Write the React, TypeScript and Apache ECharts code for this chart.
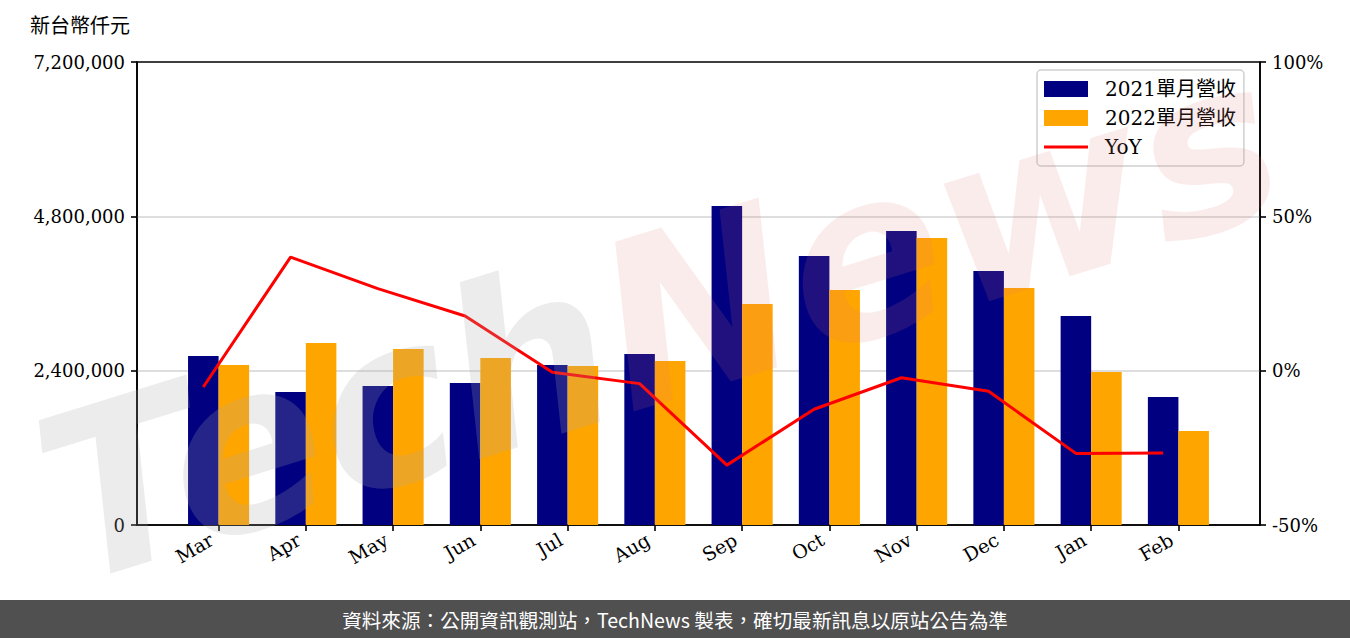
import React, { useEffect, useRef } from "react";
import * as echarts from "echarts";

const months = ["Mar", "Apr", "May", "Jun", "Jul", "Aug", "Sep", "Oct", "Nov", "Dec", "Jan", "Feb"];
const rev2021 = [2628000, 2068000, 2162000, 2208000, 2488000, 2659000, 4961000, 4183000, 4572000, 3950000, 3250000, 1991000];
const rev2022 = [2488000, 2830000, 2737000, 2597000, 2473000, 2550000, 3437000, 3654000, 4463000, 3686000, 2379000, 1462000];
const yoy = [-5.3, 36.8, 26.6, 17.7, -0.5, -4.2, -30.6, -12.5, -2.3, -6.7, -26.8, -26.7];
const leftTicks = [0, 2400000, 4800000, 7200000];
const rightTicks = [-50, 0, 50, 100];

const yTitle = "新台幣仟元";
const footer = "資料來源：公開資訊觀測站，TechNews 製表，確切最新訊息以原站公告為準";
const names = ["2021單月營收", "2022單月營收", "YoY"];

const SERIF = "'DejaVu Serif', 'Noto Sans CJK TC', serif";
const CJK = "'Noto Sans CJK TC', 'Noto Sans', sans-serif";
const BAR_UNIT = 0.35; // bar width in category units
const idx = months.map((_, i) => i);
const LINE_ICON = "path://M0,0h0.01v0.01h-0.01z M0,6.5h44v3h-44z M0,15.99h0.01v0.01h-0.01z";

export default function App() {
  const ref = useRef<HTMLDivElement>(null);
  useEffect(() => {
    if (!ref.current) return;
    const chart = echarts.init(ref.current, undefined, { renderer: "svg" });
    const gridLeft = 137, gridRight = 90, gridTop = 62, gridBottom = 113;
    const span = months.length - 1 + 2 * BAR_UNIT;
    const xMin = -BAR_UNIT - 0.05 * span;
    const xMax = months.length - 1 + BAR_UNIT + 0.05 * span;
    const plotW = 1350 - gridLeft - gridRight;
    const barPx = (BAR_UNIT * plotW) / (xMax - xMin);
    const axisLine = { show: true, onZero: false, lineStyle: { color: "#000", width: 1.6 } };
    const tick = { show: true, length: 6, lineStyle: { color: "#000", width: 1.6 } };
    const gridColors = leftTicks.map((_, i) => (i === 0 || i === leftTicks.length - 1 ? "rgba(0,0,0,0)" : "#d3d3d3"));
    chart.setOption({
      animation: false,
      backgroundColor: "#fff",
      grid: {
        left: gridLeft, right: gridRight, top: gridTop, bottom: gridBottom,
        show: true, borderColor: "#000", borderWidth: 1.6, backgroundColor: "transparent",
      },
      legend: {
        orient: "vertical",
        left: 1037, top: 70,
        padding: [9, 8, 9, 7],
        itemWidth: 44, itemHeight: 16, itemGap: 9,
        backgroundColor: "rgba(255,255,255,0.8)",
        borderColor: "#d0d0d0", borderWidth: 1.5, borderRadius: 4,
        textStyle: { fontFamily: SERIF, fontSize: 20, color: "#000", padding: [0, 0, 0, 12] },
        data: [
          { name: names[0], icon: "rect" },
          { name: names[1], icon: "rect" },
          { name: names[2], icon: LINE_ICON },
        ],
      },
      xAxis: {
        type: "value", min: xMin, max: xMax,
        axisLine, splitLine: { show: false },
        axisTick: { ...tick, customValues: idx },
        axisLabel: {
          customValues: idx,
          formatter: (v: number) => months[Math.round(v)] ?? "",
          rotate: 30, margin: 9, padding: [0, 8, 0, 0],
          fontFamily: SERIF, fontSize: 19, color: "#000",
        },
      },
      yAxis: [
        {
          type: "value", min: leftTicks[0], max: leftTicks[leftTicks.length - 1],
          interval: leftTicks[1] - leftTicks[0],
          axisLine, axisTick: tick,
          axisLabel: {
            formatter: (v: number) => v.toLocaleString("en-US"),
            fontFamily: SERIF, fontSize: 18, color: "#000", margin: 12,
          },
          splitLine: { show: true, lineStyle: { color: gridColors, width: 1.6 } },
        },
        {
          type: "value", min: rightTicks[0], max: rightTicks[rightTicks.length - 1],
          interval: rightTicks[1] - rightTicks[0], position: "right",
          axisLine, axisTick: tick,
          axisLabel: {
            formatter: (v: number) => `${v}%`,
            fontFamily: SERIF, fontSize: 18, color: "#000", margin: 12,
          },
          splitLine: { show: false },
        },
      ],
      series: [
        {
          name: names[0], type: "bar", barWidth: barPx, barGap: "0%",
          itemStyle: { color: "#000080" },
          data: rev2021.map((v, i) => [i, v]),
        },
        {
          name: names[1], type: "bar", barWidth: barPx, barGap: "0%",
          itemStyle: { color: "#FFA500" },
          data: rev2022.map((v, i) => [i, v]),
        },
        {
          name: names[2], type: "line", yAxisIndex: 1, symbol: "none",
          lineStyle: { color: "#FF0000", width: 3 }, itemStyle: { color: "#FF0000" },
          z: 5,
          data: yoy.map((v, i) => [i - BAR_UNIT / 2, v]),
        },
      ],
      graphic: [
        {
          type: "text", left: 30, top: 14, z: 10,
          style: { text: yTitle, fontFamily: CJK, fontSize: 20, fill: "#000" },
        },
        {
          type: "text", x: 660, y: 320, rotation: 0.3, z: 20, silent: true,
          style: {
            text: "{a|Tech}{b|News}",
            align: "center", verticalAlign: "middle",
            rich: {
              a: { fontFamily: "'DejaVu Sans', sans-serif", fontSize: 230, fontStyle: "italic", fontWeight: "bold", fill: "rgba(170,170,170,0.22)" },
              b: { fontFamily: "'DejaVu Sans', sans-serif", fontSize: 230, fontStyle: "italic", fontWeight: "bold", fill: "rgba(225,120,120,0.14)" },
            },
          },
        },
        {
          type: "rect", left: 0, top: 600, z: 10,
          shape: { width: 1350, height: 38 },
          style: { fill: "#505050" },
        },
        {
          type: "text", x: 675, y: 619, z: 11,
          style: { text: footer, fontFamily: CJK, fontSize: 19.6, fill: "#fff", align: "center", verticalAlign: "middle" },
        },
      ],
    });
    return () => chart.dispose();
  }, []);
  return <div ref={ref} style={{ position: "absolute", left: 0, top: 0, width: 1350, height: 638 }} />;
}
